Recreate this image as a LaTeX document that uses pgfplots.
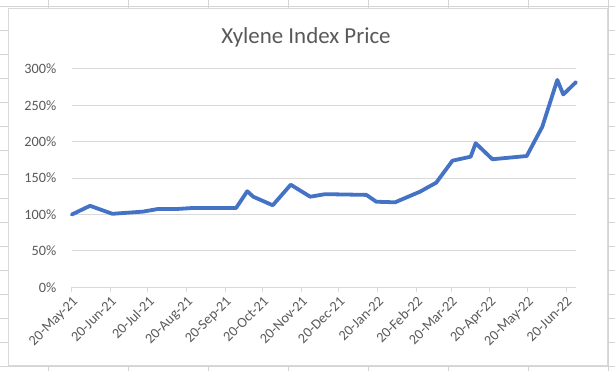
\documentclass[border=0pt]{standalone}
\usepackage{pgfplots}
\pgfplotsset{compat=1.18}
\usepackage{fontspec}
\setmainfont{Carlito}
\definecolor{ln}{HTML}{4472C4}
\definecolor{gridc}{HTML}{D9D9D9}
\definecolor{txt}{HTML}{595959}
\definecolor{cell}{HTML}{D4D4D4}
\begin{document}
\begin{tikzpicture}[x=1bp,y=1bp]
\useasboundingbox (0,0) rectangle (615,371);
\foreach \yy in {6,30,...,366} \draw[cell, line width=0.8bp] (0,{371-\yy}) -- (615,{371-\yy});
\foreach \xx in {48,128,...,608} \draw[cell, line width=0.8bp] ({\xx},0) -- ({\xx},371);
\draw[gridc, fill=white, line width=1bp] (8,6) rectangle (607,362);
\begin{axis}[at={(71.8bp,83.7bp)}, anchor=south west, scale only axis,
  width=504.2bp, height=218.3bp,
  xmin=0, xmax=404, ymin=0, ymax=300,
  axis line style={draw=none},
  ymajorgrids, grid style={gridc, line width=1bp},
  ytick style={draw=none},
  xtick style={gridc, line width=1bp},
  tick align=outside, major tick length=5bp, xtick pos=bottom, ytick pos=left,
  tick label style={font=\fontsize{14.3}{17}\selectfont, text=txt},
  yticklabel style={xshift=-7bp},
  xticklabel style={rotate=45, anchor=north east, inner sep=2bp},
  ytick={0,50,...,300}, yticklabels={0\%,50\%,100\%,150\%,200\%,250\%,300\%},
  xtick={0,31,61,92,123,153,184,214,245,276,304,335,365,396},
  xticklabels={20-May-21,20-Jun-21,20-Jul-21,20-Aug-21,20-Sep-21,20-Oct-21,20-Nov-21,20-Dec-21,20-Jan-22,20-Feb-22,20-Mar-22,20-Apr-22,20-May-22,20-Jun-22},
  clip=false]
\addplot[ln, line width=3.8bp, line join=round, line cap=round] coordinates {
(0,100) (14.6,112) (32.5,101) (57,104) (69,107.6) (84,107.6) (97,109) (131.6,109)
(140.6,132) (145.4,124.5) (161,112.7) (175.4,141) (191,124.5) (203,128) (236,127)
(244,117.6) (259,116.8) (279,131.4) (292,143.8) (305,174) (319.6,179.5) (323.6,198)
(337,176) (364.5,180.4) (377,220.7) (389,285) (393.8,265) (404,282)};
\end{axis}
\node[font=\fontsize{23}{28}\selectfont, text=txt] at (306,334) {Xylene Index Price};
\end{tikzpicture}
\end{document}
